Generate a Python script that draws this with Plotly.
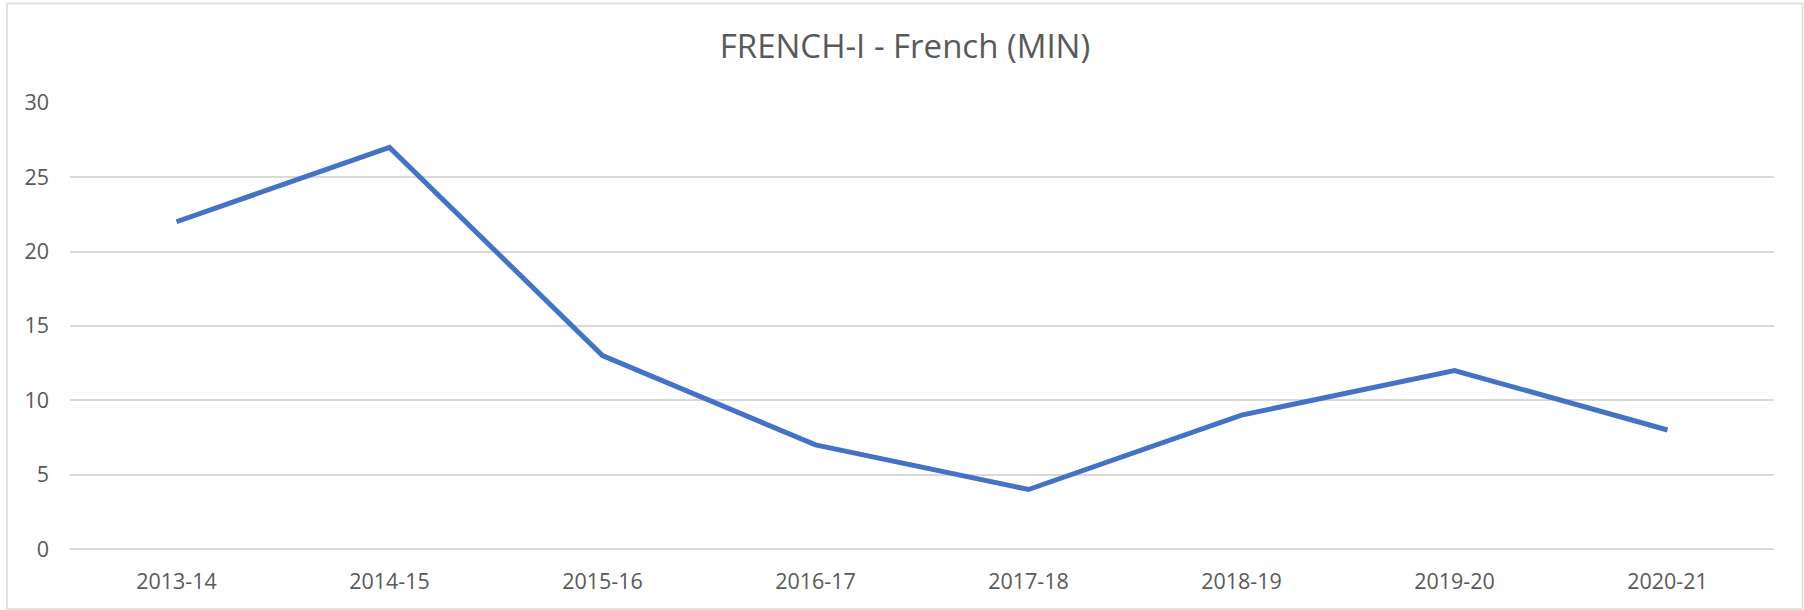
import plotly.graph_objects as go

years = ["2013-14", "2014-15", "2015-16", "2016-17", "2017-18", "2018-19", "2019-20", "2020-21"]
values = [22, 27, 13, 7, 4, 9, 12, 8]
title_text = "FRENCH-I - French (MIN)"
y_ticks = [0, 5, 10, 15, 20, 25, 30]

W, H = 1804, 610
ML, MR, MT, MB = 70, 30, 102, 61
pw = W - ML - MR
ph = H - MT - MB

fig = go.Figure()
fig.add_trace(go.Scatter(
    x=years, y=values, mode="lines",
    line=dict(color="#4472C4", width=5),
    hoverinfo="x+y", showlegend=False,
))

def px_x(p):
    return (p - ML) / pw

def px_y(p):
    return (H - MB - p) / ph

fig.update_layout(
    width=W, height=H,
    margin=dict(l=ML, r=MR, t=MT, b=MB, pad=0),
    paper_bgcolor="white", plot_bgcolor="white",
    font=dict(family="Open Sans, sans-serif", color="#595959"),
    title=dict(text=title_text, x=0.5 + 3 / W, xref="container", xanchor="center",
               y=1 - 46 / H, yref="container", yanchor="middle",
               font=dict(size=33, color="#595959", family="Open Sans, sans-serif")),
    xaxis=dict(type="category", range=[-0.5, len(years) - 0.5],
               showgrid=False, showline=False, zeroline=False,
               ticks="", tickfont=dict(size=21.5, color="#595959"),
               ticklabelstandoff=17),
    yaxis=dict(range=[0, 30.05], tickvals=y_ticks, showgrid=True,
               gridcolor="#d9d9d9", gridwidth=1.6,
               zeroline=True, zerolinecolor="#d9d9d9", zerolinewidth=1.6,
               showline=False, ticks="", tickfont=dict(size=21.5, color="#595959"),
               ticklabelstandoff=20),
    shapes=[dict(type="rect", xref="paper", yref="paper",
                 x0=px_x(7), x1=px_x(1802.5), y0=px_y(609), y1=px_y(3.5),
                 line=dict(color="#d9d9d9", width=1.5), layer="below")],
)

fig.write_html("out.html", config={"displayModeBar": False},
               post_script="document.body.style.margin='0';document.body.style.padding='0';")
